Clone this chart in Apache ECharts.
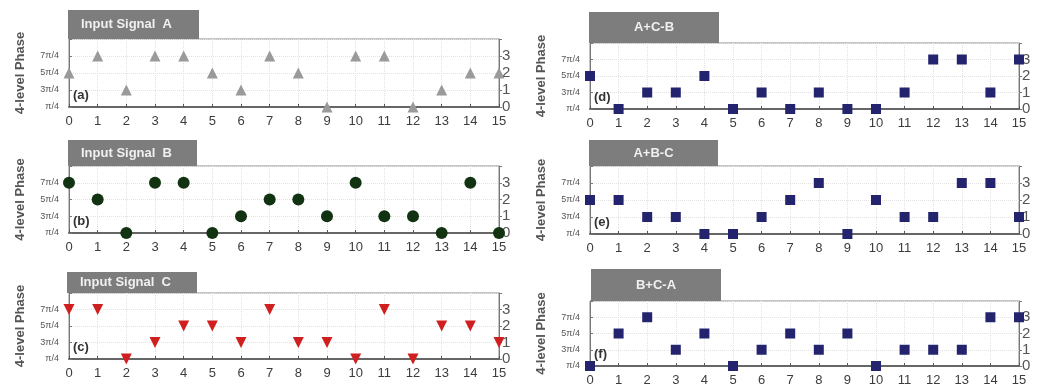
<!DOCTYPE html>
<html>
<head>
<meta charset="utf-8">
<script src="https://cdn.jsdelivr.net/npm/echarts@6/dist/echarts.min.js"></script>
<style>html,body{margin:0;padding:0;background:#fff}#c{width:1038px;height:392px}</style>
</head>
<body>
<div id="c"></div>
<script>
const xIndex = [0,1,2,3,4,5,6,7,8,9,10,11,12,13,14,15];
const phaseLabels = ['π/4','3π/4','5π/4','7π/4'];
const levelLabels = ['0','1','2','3'];
const signalA = [2,3,1,3,3,2,1,3,2,0,3,3,0,1,2,2];
const signalB = [3,2,0,3,3,0,1,2,2,1,3,1,1,0,3,0];
const signalC = [3,3,0,1,2,2,1,3,1,1,0,3,0,2,2,1];
const signalACB = [2,0,1,1,2,0,1,0,1,0,0,1,3,3,1,3];
const signalABC = [2,2,1,1,0,0,1,2,3,0,2,1,1,3,3,1];
const signalBCA = [0,2,3,1,2,0,1,2,1,2,0,1,1,1,3,3];
const titles = ['Input Signal  A','Input Signal  B','Input Signal  C','A+C-B','A+B-C','B+C-A'];
const panelTags = ['(a)','(b)','(c)','(d)','(e)','(f)'];

const FONT = 'Liberation Sans, Arial, sans-serif';
const panels = [
  {data: signalA, grid:{left:69, top:39, width:430, height:68}, tbox:{x:68,y:10,w:131,h:29}, symbol:'triangle', rot:0, size:11, color:'#9a9a9a', leftAlign:true},
  {data: signalB, grid:{left:69, top:166, width:430, height:67}, tbox:{x:68,y:140,w:129,h:26}, symbol:'circle', rot:0, size:12, color:'#123312', leftAlign:true},
  {data: signalC, grid:{left:69, top:293, width:430, height:66}, tbox:{x:67,y:272,w:130,h:21}, symbol:'triangle', rot:180, size:11, color:'#cf1f1f', leftAlign:true},
  {data: signalACB, grid:{left:590, top:43, width:429, height:66}, tbox:{x:589,y:12,w:130,h:31}, symbol:'rect', rot:0, size:10, color:'#23236e', leftAlign:false},
  {data: signalABC, grid:{left:590, top:166, width:429, height:68}, tbox:{x:589,y:140,w:129,h:26}, symbol:'rect', rot:0, size:10, color:'#23236e', leftAlign:false},
  {data: signalBCA, grid:{left:590, top:301, width:429, height:65}, tbox:{x:591,y:269,w:130,h:32}, symbol:'rect', rot:0, size:10, color:'#23236e', leftAlign:false}
];

const grid = [], xAxis = [], yAxis = [], series = [], graphic = [];
panels.forEach((p, i) => {
  grid.push(Object.assign({show:true, borderColor:'#8a8a8a', borderWidth:1, backgroundColor:'#fff'}, p.grid));
  xAxis.push({
    type:'value', gridIndex:i, min:0, max:15, interval:1,
    axisLine:{show:true, onZero:false, lineStyle:{color:'#666', width:2}},
    axisTick:{show:true, inside:true, length:3, lineStyle:{color:'#555'}},
    axisLabel:{color:'#3c3c3c', fontSize:13, fontFamily:FONT, margin:8,
      formatter: v => String(xIndex[v])},
    splitLine:{show:true, lineStyle:{color:'#e2e2e2', type:'dotted'}}
  });
  yAxis.push({
    type:'value', gridIndex:i, min:0, max:4, interval:1, position:'left',
    name:'4-level Phase', nameLocation:'middle', nameGap:42, nameRotate:90,
    nameTextStyle:{color:'#555', fontSize:13, fontWeight:'bold', fontFamily:FONT},
    axisLine:{show:true, lineStyle:{color:'#777', width:1}},
    axisTick:{show:true, inside:true, length:3, lineStyle:{color:'#777'}},
    axisLabel:{color:'#555', fontSize:9, fontFamily:FONT, margin:10,
      formatter: v => (v < phaseLabels.length ? phaseLabels[v] : '')},
    splitLine:{show:true, lineStyle:{color:'#e2e2e2', type:'dotted'}}
  });
  yAxis.push({
    type:'value', gridIndex:i, min:0, max:4, interval:1, position:'right',
    axisLine:{show:true, lineStyle:{color:'#777', width:1}},
    axisTick:{show:true, inside:false, length:3, lineStyle:{color:'#777'}},
    axisLabel:{color:'#555', fontSize:15, fontFamily:FONT, margin:3,
      formatter: v => (v < levelLabels.length ? levelLabels[v] : '')},
    splitLine:{show:false}
  });
  series.push({
    type:'scatter', xAxisIndex:i, yAxisIndex:2*i, clip:false,
    symbol:p.symbol, symbolRotate:p.rot, symbolSize:p.size,
    itemStyle:{color:p.color, opacity:1},
    data: p.data.map((v, k) => [xIndex[k], v]),
    z:5
  });
  graphic.push({
    type:'rect', shape:{x:p.tbox.x, y:p.tbox.y, width:p.tbox.w, height:p.tbox.h},
    style:{fill:'#7d7d7d'}, z:10
  });
  graphic.push({
    type:'text',
    x: p.leftAlign ? p.tbox.x + 13 : p.tbox.x + p.tbox.w/2,
    y: p.tbox.y + p.tbox.h/2,
    style:{text:titles[i], fill:'#f0f0f0', font:'bold 13px ' + FONT,
      textAlign: p.leftAlign ? 'left' : 'center', textVerticalAlign:'middle'},
    z:11
  });
  graphic.push({
    type:'text', x:p.grid.left + 4, y:p.grid.top + p.grid.height - 12,
    style:{text:panelTags[i], fill:'#333', font:'bold 13px ' + FONT,
      textAlign:'left', textVerticalAlign:'middle'},
    z:11
  });
});

const chart = echarts.init(document.getElementById('c'), null, {renderer:'canvas'});
chart.setOption({
  animation:false,
  backgroundColor:'#fff',
  textStyle:{fontFamily:FONT},
  grid, xAxis, yAxis, series, graphic
});
</script>
</body>
</html>
